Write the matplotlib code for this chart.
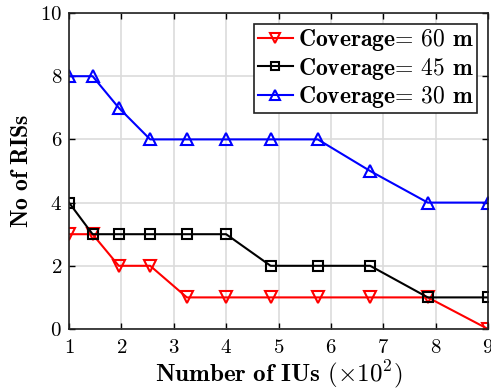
import matplotlib
matplotlib.use("Agg")
import matplotlib.pyplot as plt

plt.rcParams['font.family'] = 'cmr10'
plt.rcParams['mathtext.fontset'] = 'cm'
plt.rcParams['axes.formatter.use_mathtext'] = True

# data
num_ius = [1, 1.45, 1.95, 2.55, 3.25, 4, 4.85, 5.75, 6.75, 7.85, 9]
ris_60m = [3, 3, 2, 2, 1, 1, 1, 1, 1, 1, 0]
ris_45m = [4, 3, 3, 3, 3, 3, 2, 2, 2, 1, 1]
ris_30m = [8, 8, 7, 6, 6, 6, 6, 6, 5, 4, 4]

fig = plt.figure(figsize=(4.91, 3.92), dpi=100)
ax = fig.add_axes([69/491, 1 - 329/392, (488-69)/491, (329-13)/392])

ax.plot(num_ius, ris_60m, color='red', marker='v', ms=8, mfc='none', mew=1.5, lw=1.5,
        label=r'$\mathbf{Coverage}$= 60 $\mathbf{m}$')
ax.plot(num_ius, ris_45m, color='black', marker='s', ms=7, mfc='none', mew=1.5, lw=1.5,
        label=r'$\mathbf{Coverage}$= 45 $\mathbf{m}$')
ax.plot(num_ius, ris_30m, color='blue', marker='^', ms=8, mfc='none', mew=1.5, lw=1.5,
        label=r'$\mathbf{Coverage}$= 30 $\mathbf{m}$')

ax.set_xlim(1, 9)
ax.set_ylim(0, 10)
ax.set_xticks(range(1, 10))
ax.set_yticks(range(0, 11, 2))
ax.grid(True, color='#dcdcdc', lw=1.2)
ax.set_axisbelow(True)
ax.tick_params(direction='in', top=True, right=True, labelsize=15, length=4, width=1)
ax.tick_params(axis='x', pad=7)
ax.tick_params(axis='y', pad=5)
for s in ax.spines.values():
    s.set_linewidth(1.2)
    s.set_color('#202020')

ax.set_xlabel(r'$\mathbf{Number\ of\ IUs}$ $(\times 10^2)$', fontsize=18, labelpad=1)
ax.set_ylabel(r'$\mathbf{No\ of\ RISs}$', fontsize=17, labelpad=5)

leg = ax.legend(loc='upper right', fontsize=17, fancybox=False, framealpha=1,
                edgecolor='#202020', handlelength=1.5, handletextpad=0.2,
                borderpad=0.15, labelspacing=0.1, borderaxespad=0.45, markerscale=0.9)
leg.get_frame().set_linewidth(1.2)

fig.savefig('out.png', dpi=100)
